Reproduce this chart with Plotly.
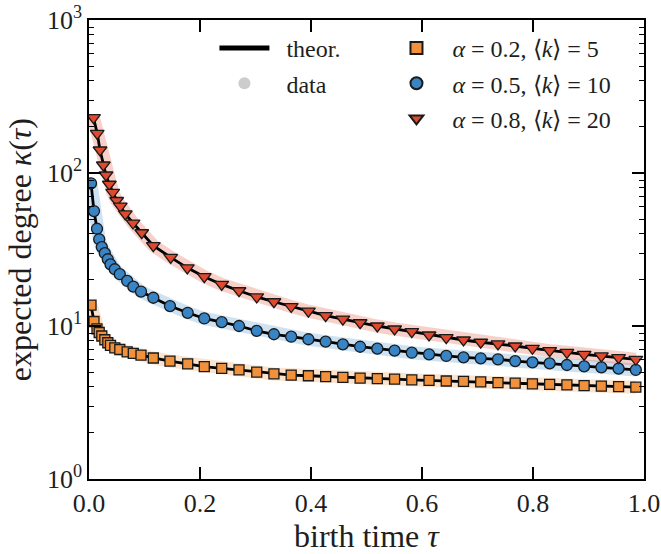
import plotly.graph_objects as go

# ---------------- data ----------------
tau_ob = [0.0036, 0.0090, 0.0144, 0.0184, 0.0231, 0.0285, 0.0339, 0.0387, 0.0465, 0.0555,
          0.0688, 0.0798, 0.0937, 0.1159, 0.1459, 0.1778, 0.2077, 0.2391, 0.2703, 0.3022,
          0.3332, 0.3643, 0.3953, 0.4264, 0.4574, 0.4885, 0.5195, 0.5506, 0.5816, 0.6127,
          0.6437, 0.6748, 0.7058, 0.7369, 0.7679, 0.7990, 0.8300, 0.8611, 0.8921, 0.9232,
          0.9542, 0.9853]

kappa_orange = [13.7, 10.7, 9.59, 9.07, 8.60, 8.13, 7.77, 7.46, 7.19, 7.02,
                6.78, 6.63, 6.46, 6.18, 5.90, 5.65, 5.42, 5.29, 5.16, 5.00,
                4.86, 4.78, 4.73, 4.67, 4.62, 4.57, 4.53, 4.49, 4.45, 4.41,
                4.37, 4.34, 4.31, 4.27, 4.23, 4.19, 4.15, 4.12, 4.08, 4.04,
                4.01, 3.98]

kappa_blue = [85.6, 56.4, 43.2, 36.9, 32.8, 29.9, 27.3, 25.3, 23.5, 21.8,
              19.7, 18.1, 16.8, 15.3, 13.5, 12.2, 11.2, 10.6, 10.0, 9.3,
              8.83, 8.51, 8.19, 7.90, 7.59, 7.32, 7.11, 6.90, 6.69, 6.53,
              6.37, 6.24, 6.15, 6.06, 5.90, 5.79, 5.70, 5.56, 5.45, 5.37,
              5.26, 5.16]

tau_red = [0.0081, 0.0148, 0.0198, 0.0258, 0.0306, 0.0366, 0.0427, 0.0499, 0.0564, 0.0654,
           0.0793, 0.0950, 0.1159, 0.1472, 0.1771, 0.2077, 0.2391, 0.2703, 0.3022,
           0.3332, 0.3643, 0.3953, 0.4264, 0.4574, 0.4885, 0.5195, 0.5506, 0.5816, 0.6127,
           0.6437, 0.6748, 0.7058, 0.7369, 0.7679, 0.7990, 0.8300, 0.8611, 0.8921, 0.9232,
           0.9542, 0.9853]

kappa_red = [229.8, 181.7, 141.4, 112.8, 97.0, 84.4, 74.8, 66.1, 60.8, 54.0,
             47.1, 40.7, 33.5, 28.1, 24.0, 21.0, 18.7, 17.0, 15.5,
             14.4, 13.4, 12.5, 11.7, 11.1, 10.5, 10.0, 9.56, 9.18, 8.73,
             8.39, 8.10, 7.83, 7.63, 7.40, 7.15, 6.90, 6.73, 6.53, 6.37,
             6.21, 6.06]

series_names = ["<i>α</i> = 0.2, ⟨<i>k</i>⟩ = 5",
                "<i>α</i> = 0.5, ⟨<i>k</i>⟩ = 10",
                "<i>α</i> = 0.8, ⟨<i>k</i>⟩ = 20"]
legend_names = ["theor.", "data"]

x_tick_vals = [0.0, 0.2, 0.4, 0.6, 0.8, 1.0]
x_tick_text = ["0.0", "0.2", "0.4", "0.6", "0.8", "1.0"]
y_tick_vals = [1, 10, 100, 1000]
y_tick_text = ["10<sup>0</sup>", "10<sup>1</sup>", "10<sup>2</sup>", "10<sup>3</sup>"]
y_minor_vals = [2, 3, 4, 5, 6, 7, 8, 9, 20, 30, 40, 50, 60, 70, 80, 90,
                200, 300, 400, 500, 600, 700, 800, 900]

x_title = "birth time <i>τ</i>"
y_title = "expected degree <i>κ</i>(<i>τ</i>)"

# ---------------- styling ----------------
colors = ["#F1913C", "#3884C4", "#DF4A2E"]
cloud_colors = ["rgba(241,145,60,0.26)", "rgba(56,132,196,0.24)", "rgba(223,74,46,0.26)"]
symbols = ["square", "circle", "triangle-down"]
msizes = [10, 11, 12]
FONT = "Liberation Serif"
TXT = "#1e1e1e"
GAP1 = "\u00a0\u00a0"   # extra gap between legend symbol and text
GAP2 = "\u00a0"

series = [(tau_ob, kappa_orange), (tau_ob, kappa_blue), (tau_red, kappa_red)]

fig = go.Figure()

# data clouds
for (tx, ky), cc in zip(series, cloud_colors):
    fig.add_trace(go.Scatter(x=tx, y=ky, mode="lines", line=dict(color=cc, width=13),
                             showlegend=False, hoverinfo="skip"))

# theory lines
for tx, ky in series:
    fig.add_trace(go.Scatter(x=tx, y=ky, mode="lines", line=dict(color="black", width=2.8),
                             showlegend=False, hoverinfo="skip"))

# legend-only entries (left column)
fig.add_trace(go.Scatter(x=[None], y=[None], mode="lines", name=GAP1 + legend_names[0],
                         line=dict(color="black", width=2.8), legend="legend",
                         legendgroup="a"))
fig.add_trace(go.Scatter(x=[None], y=[None], mode="markers", name=GAP1 + legend_names[1],
                         marker=dict(color="#cccccc", size=8), legend="legend",
                         legendgroup="b"))

# markers
for i, (tx, ky) in enumerate(series):
    fig.add_trace(go.Scatter(x=tx, y=ky, mode="markers", name=GAP2 + series_names[i],
                             marker=dict(symbol=symbols[i], size=msizes[i], color=colors[i],
                                         line=dict(color="#1a1a1a", width=1.3)),
                             legend="legend2", legendgroup="s%d" % i))

axis_common = dict(showline=True, linecolor="black", linewidth=1.6, mirror="allticks",
                   ticks="inside", ticklen=12, tickwidth=2, tickcolor="black",
                   showgrid=False, zeroline=False, ticklabeloverflow="allow",
                   tickfont=dict(family=FONT, size=26, color=TXT))

fig.update_xaxes(range=[0, 1], tickmode="array", tickvals=x_tick_vals, ticktext=x_tick_text,
                 **axis_common)
fig.update_yaxes(type="log", range=[0, 3], tickmode="array", tickvals=y_tick_vals,
                 ticktext=y_tick_text,
                 minor=dict(tickmode="array", tickvals=y_minor_vals, ticks="inside", ticklen=5,
                            tickwidth=1, tickcolor="black", showgrid=False),
                 **axis_common)

# axis titles placed precisely
fig.add_annotation(text=x_title, xref="paper", yref="paper", x=0.5, y=-0.124,
                   xanchor="center", yanchor="middle", showarrow=False,
                   font=dict(family=FONT, size=32, color=TXT))
fig.add_annotation(text=y_title, xref="paper", yref="paper", x=-0.125, y=0.5,
                   xanchor="center", yanchor="middle", showarrow=False, textangle=-90,
                   font=dict(family=FONT, size=32, color=TXT))

legend_common = dict(bgcolor="rgba(0,0,0,0)", borderwidth=0,
                     font=dict(family=FONT, size=24, color=TXT),
                     xanchor="left", yanchor="top", tracegroupgap=1,
                     itemsizing="constant", itemwidth=50)

fig.update_layout(
    width=661, height=554,
    font=dict(family=FONT, size=24, color=TXT),
    margin=dict(l=89, r=17, t=20, b=75, autoexpand=False),
    plot_bgcolor="white", paper_bgcolor="white",
    legend=dict(x=0.226, y=0.987, **legend_common),
    legend2=dict(x=0.536, y=0.987, **legend_common),
)

# remove the browser's default 8 px body margin so the figure sits at the page origin
fig.write_html("out.html", config={"displayModeBar": False},
               post_script="document.body.style.margin='0';document.body.style.overflow='hidden';")
